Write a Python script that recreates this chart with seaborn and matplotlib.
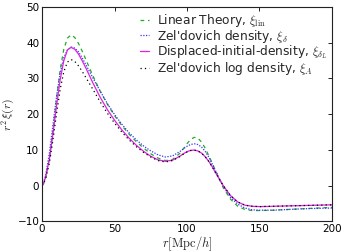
import numpy as np
import pandas as pd
import matplotlib
matplotlib.use("Agg")
import matplotlib.pyplot as plt
import seaborn as sns

r = [0, 1, 2.5, 5, 7.5, 10, 12.5, 15, 17.5, 20, 22.5, 25, 27.5, 30, 35, 40, 45, 50, 55, 60,
     65, 70, 75, 80, 85, 90, 95, 97.5, 100, 102.5, 105, 107.5, 110, 112.5, 115, 117.5, 120,
     125, 130, 135, 140, 145, 150, 160, 170, 180, 190, 200]

xi_lin = [0, 0.5, 2.2, 7.5, 15.5, 24.5, 32.5, 38.2, 41.3, 42.2, 41.5, 39.9, 37.8, 35.5,
          30.8, 26.5, 22.8, 19.6, 16.8, 14.4, 12.3, 10.5, 8.9, 7.7, 7.0, 7.3, 9.0, 10.3,
          11.7, 12.9, 13.5, 13.3, 12.2, 10.5, 8.4, 6.2, 3.9, -0.6, -3.8, -5.8, -6.7, -7.0,
          -7.0, -6.9, -6.7, -6.5, -6.3, -6.1]

xi_delta = [0, 0.8, 3, 9, 17, 25, 31.5, 35.8, 38, 38.8, 38.5, 37.5, 35.9, 34, 30.2, 26.5,
            23, 19.9, 17.2, 14.8, 12.8, 11.1, 9.7, 8.6, 8.0, 8.3, 9.5, 10.3, 11.0, 11.5,
            11.7, 11.5, 10.8, 9.6, 8.0, 6.0, 3.9, -0.2, -3.3, -5.2, -6.3, -6.8, -6.9,
            -6.9, -6.7, -6.5, -6.4, -6.3]

xi_dL = [0, 0.6, 2.5, 7.3, 14.5, 22.5, 29.7, 35, 38, 38.7, 38.2, 36.9, 35.1, 33.1, 28.8,
         24.8, 21.3, 18.3, 15.6, 13.3, 11.3, 9.6, 8.2, 7.2, 6.8, 7.1, 8.2, 8.9, 9.5, 9.85,
         9.95, 9.7, 9.1, 8.1, 6.8, 5.2, 3.4, 0.0, -2.8, -4.6, -5.5, -5.8, -5.9, -5.8,
         -5.7, -5.6, -5.5, -5.4]

xi_A = [0, 0.5, 2, 6.2, 12.8, 20.2, 27, 31.9, 34.6, 35.3, 34.8, 33.6, 32.1, 30.4, 27,
        23.5, 20.3, 17.5, 15, 12.8, 10.9, 9.3, 8.0, 7.0, 6.6, 7.0, 8.1, 8.8, 9.4, 9.8,
        9.9, 9.7, 9.1, 8.1, 6.8, 5.2, 3.4, 0.0, -2.8, -4.6, -5.5, -5.8, -5.9, -5.8,
        -5.7, -5.6, -5.5, -5.4]

labels = [r"Linear Theory, $\xi_{\rm lin}$",
          r"Zel'dovich density, $\xi_\delta$",
          r"Displaced-initial-density, $\xi_{\delta_L}$",
          r"Zel'dovich log density, $\xi_A$"]
series = [xi_lin, xi_delta, xi_dL, xi_A]
colors = ["#22aa22", "#3333ff", "#dd22dd", "black"]
styles = [(0, (3, 3)), (0, (1, 1.2)), "-", (0, (1, 2.5))]

sns.set_style("white")
plt.rcParams.update({
    "font.family": ["DejaVu Sans"],
    "font.size": 7.5,
    "xtick.direction": "in",
    "ytick.direction": "in",
    "xtick.top": True,
    "ytick.right": True,
    "mathtext.fontset": "cm",
})

fig = plt.figure(figsize=(3.45, 2.52), dpi=100)
ax = fig.add_axes([0.122, 0.122, 0.84, 0.85])

for y, lab, c, ls in zip(series, labels, colors, styles):
    df = pd.DataFrame({"r": r, "v": y})
    sns.lineplot(data=df, x="r", y="v", ax=ax, color=c, linestyle=ls, lw=0.9, label=lab)

ax.set_xlim(0, 200)
ax.set_ylim(-10, 50)
ax.set_xticks([0, 50, 100, 150, 200])
ax.set_yticks([-10, 0, 10, 20, 30, 40, 50])
ax.tick_params(labelsize=7.5)
ax.set_xlabel(r"$r[\mathrm{Mpc}/h]$", fontsize=9, labelpad=0)
ax.set_ylabel(r"$r^2\,\xi(r)$", fontsize=8.5, labelpad=0)
for s in ax.spines.values():
    s.set_color("#222222")
    s.set_linewidth(0.8)
ax.tick_params(length=3, width=0.6, pad=2, colors="black")
ax.legend(loc="upper right", bbox_to_anchor=(1.0, 1.0), frameon=False, fontsize=8.8,
          handlelength=0.75, borderaxespad=0.1, borderpad=0.3, labelspacing=-0.1,
          handletextpad=0.65)
fig.savefig("out.png", dpi=100)
